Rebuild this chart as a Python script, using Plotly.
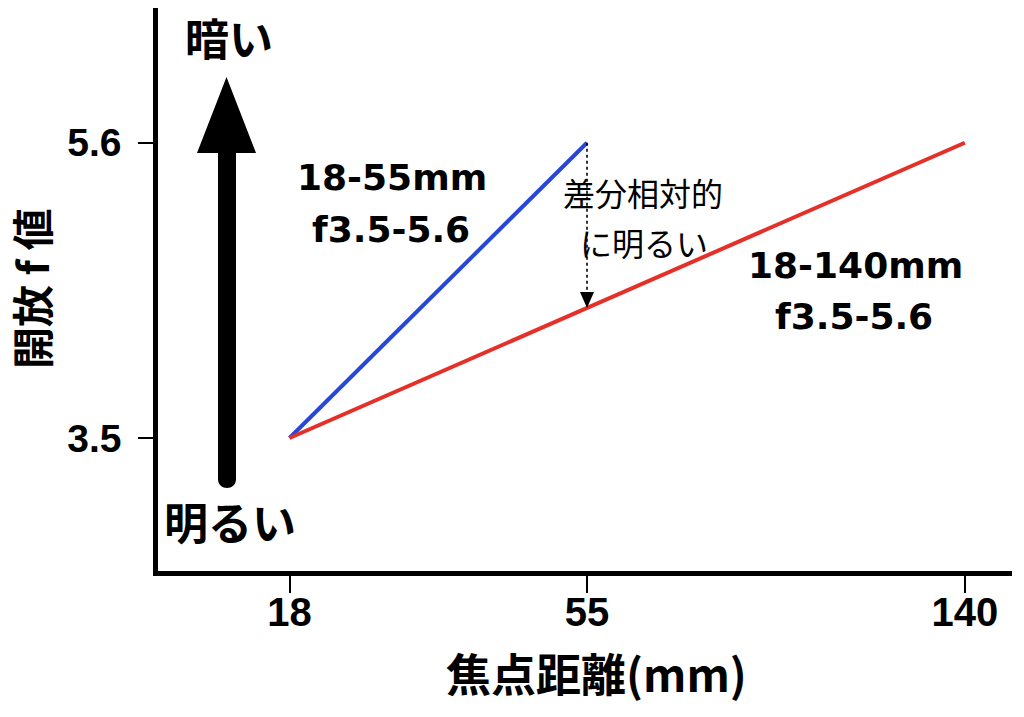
import plotly.graph_objects as go

# ---- data ----
focal_labels = ["18", "55", "140"]          # tick labels (mm)
focal_pos = [0.0, 1.0, 2.27]                # position of each focal length on the x axis
lens_short_x = ["18", "55"]                 # 18-55mm zoom
lens_short_f = [3.5, 5.6]
lens_long_x = ["18", "140"]                 # 18-140mm zoom
lens_long_f = [3.5, 5.6]
y_ticks = [3.5, 5.6]
y_ticktext = ["3.5", "5.6"]

pos_of = dict(zip(focal_labels, focal_pos))

# ---- layout geometry (pixel anchors of the reference) ----
W, H = 1024, 717
M_L, M_R, M_T, M_B = 158, 12, 8, 146
X0_PX, X_PPU = 289.5, 297.5     # pixel of position 0, pixels per position unit
Y0_PX, Y_PPU = 438.0, 140.6     # pixel of f=3.5, pixels per f unit

def px(xp):
    return (xp - X0_PX) / X_PPU

def py(yp):
    return 3.5 + (Y0_PX - yp) / Y_PPU

X_RANGE = [px(M_L), px(W - M_R)]
Y_RANGE = [py(H - M_B), py(M_T)]

def paper_x(xp):
    return (xp - M_L) / (W - M_R - M_L)

def paper_y(yp):
    return (H - M_B - yp) / (H - M_B - M_T)

LAT_B = "DejaVu Sans, Noto Sans CJK JP, sans-serif"
TICK_F = "Liberation Sans, Arial, Noto Sans CJK JP, sans-serif"
CJK = "Noto Sans CJK JP, sans-serif"

fig = go.Figure()
fig.add_trace(go.Scatter(
    x=[pos_of[v] for v in lens_short_x], y=lens_short_f, mode="lines",
    line=dict(color="#2747d8", width=4), name="18-55mm", showlegend=False,
    hoverinfo="skip"))
fig.add_trace(go.Scatter(
    x=[pos_of[v] for v in lens_long_x], y=lens_long_f, mode="lines",
    line=dict(color="#e5302a", width=4), name="18-140mm", showlegend=False,
    hoverinfo="skip"))

# dotted arrow between the two lines at 55mm
x55 = pos_of["55"]
red_at_55 = lens_long_f[0] + (lens_long_f[1] - lens_long_f[0]) * (
    (x55 - pos_of[lens_long_x[0]]) / (pos_of[lens_long_x[1]] - pos_of[lens_long_x[0]]))
dx_head = 7 / X_PPU
dy_head = 16 / Y_PPU
fig.add_shape(type="line", x0=x55, x1=x55, y0=lens_short_f[1], y1=red_at_55 + dy_head,
              line=dict(color="black", width=1.6, dash="dot"), layer="above")
fig.add_shape(type="path",
              path=f"M {x55-dx_head},{red_at_55+dy_head} L {x55+dx_head},{red_at_55+dy_head} L {x55},{red_at_55} Z",
              fillcolor="black", line=dict(width=0), layer="above")

# big brightness arrow
pts = [("M", 218, 153), ("L", 197, 153), ("L", 226.5, 77), ("L", 256, 153),
       ("L", 236, 153), ("L", 236, 479)]
path = " ".join(f"{c} {px(a)},{py(b)}" for c, a, b in pts)
path += f" C {px(236)},{py(491)} {px(218)},{py(491)} {px(218)},{py(479)} Z"
fig.add_shape(type="path", path=path, fillcolor="black", line=dict(width=0))

def txt(t, xp, yp, size, family, bold=False):
    fig.add_annotation(x=px(xp), y=py(yp), xref="x", yref="y", text=(f"<b>{t}</b>" if bold else t),
                       showarrow=False, font=dict(size=size, family=family, color="black"),
                       xanchor="center", yanchor="middle")

txt("暗い", 229, 37, 44, CJK, True)
txt("明るい", 230, 521, 44, CJK, True)
txt("18-55mm", 391.5, 177, 36, LAT_B, True)
txt("f3.5-5.6", 391, 229, 36, LAT_B, True)
txt("18-140mm", 855, 265, 36, LAT_B, True)
txt("f3.5-5.6", 854, 316, 36, LAT_B, True)
txt("差分相対的", 643, 192, 32, CJK)
txt("に明るい", 644, 242, 32, CJK)

# axis titles
fig.add_annotation(x=paper_x(596), y=paper_y(672), xref="paper", yref="paper",
                   text="<b>焦点距離(mm)</b>", showarrow=False,
                   font=dict(size=45, family=CJK, color="black"),
                   xanchor="center", yanchor="middle")
fig.add_annotation(x=paper_x(30), y=paper_y(289), xref="paper", yref="paper",
                   text="<b>開放 f 値</b>", showarrow=False, textangle=-90,
                   font=dict(size=42, family=CJK, color="black"),
                   xanchor="center", yanchor="middle")

fig.update_layout(
    width=W, height=H,
    margin=dict(l=M_L, r=M_R, t=M_T, b=M_B, autoexpand=False),
    plot_bgcolor="white", paper_bgcolor="white",
    showlegend=False,
    xaxis=dict(range=X_RANGE, tickvals=focal_pos, ticktext=focal_labels,
               showgrid=False, zeroline=False, showline=True, linewidth=4.5,
               linecolor="black", ticks="outside", ticklen=17, tickwidth=1.5,
               tickcolor="black", ticklabelstandoff=-15,
               tickfont=dict(size=40, family=TICK_F, color="black", weight="bold")),
    yaxis=dict(range=Y_RANGE, tickvals=y_ticks, ticktext=y_ticktext,
               showgrid=False, zeroline=False, showline=True, linewidth=4.5,
               linecolor="black", ticks="outside", ticklen=15, tickwidth=1.5,
               tickcolor="black", ticklabelstandoff=9,
               tickfont=dict(size=39, family=TICK_F, color="black", weight="bold")),
)

fig.write_html("out.html", config={"displayModeBar": False},
               post_script="document.body.style.margin='0px';")
